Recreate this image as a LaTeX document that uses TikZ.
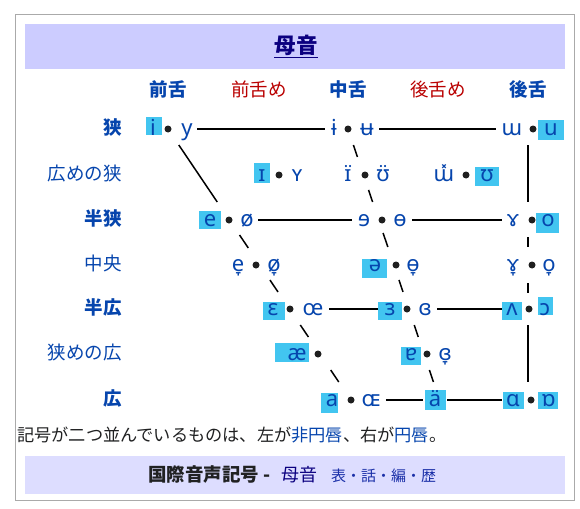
\documentclass[tikz,border=0pt]{standalone}
\usepackage{fontspec}
\setmainfont{Noto Sans CJK JP}
\newfontfamily\ipafont{Noto Sans}
\usetikzlibrary{calc}
\definecolor{lk}{HTML}{0645AD}
\definecolor{vis}{HTML}{0B0080}
\definecolor{redlink}{HTML}{BA0000}
\definecolor{hl}{RGB}{66,197,240}
\definecolor{tx}{HTML}{202122}
\definecolor{bd}{HTML}{AAAAAA}
\definecolor{bandA}{HTML}{CCCCFF}
\definecolor{bandB}{HTML}{DDDDFF}
\definecolor{navlk}{HTML}{1A2FA8}
\newcommand\setfs[1]{\fontsize{#1}{#1}\selectfont}
\begin{document}
\begin{tikzpicture}[x=1pt,y=-1pt,
  vw/.style={font=\ipafont\setfs{22}, text=lk, inner sep=0pt, anchor=base},
  dotn/.style={circle, fill=black!88, inner sep=0pt, minimum size=7pt},
  ln/.style={line width=1.5pt, black},
  hdb/.style={font=\bfseries\setfs{18.5}, text=lk, inner sep=0pt, anchor=base},
  hdr/.style={font=\setfs{18.5}, text=redlink, inner sep=0pt, anchor=base},
  rowb/.style={font=\bfseries\setfs{18.5}, text=lk, inner sep=0pt, anchor=base east},
  rown/.style={font=\setfs{18.5}, text=lk, inner sep=0pt, anchor=base east}
]
\useasboundingbox (0,0) rectangle (580,508);
\fill[white] (0,0) rectangle (580,508);
% frame and bands
\draw[bd, line width=1pt] (15.5,14.5) rectangle (574,500);
\fill[bandA] (25,24) rectangle (565,69);
\fill[bandB] (25,456) rectangle (565,494);
% title
\node[font=\bfseries\setfs{21.5}, text=vis, inner sep=0pt, anchor=base] (title) at (296,54) {母音};
\draw[vis, line width=1.2pt] ($(title.base west)+(0,3.5)$) -- ($(title.base east)+(0,3.5)$);
% column headers
\node[hdb] (h1) at (168,97) {前舌};
\node[hdr] (h2) at (259,97) {前舌め};
\node[hdb] (h3) at (348,97) {中舌};
\node[hdr] (h4) at (438,97) {後舌め};
\node[hdb] (h5) at (528,97) {後舌};
% row labels
\node[rowb] (r1) at (122,134) {狭};
\node[rown] (r2) at (122,180) {広めの狭};
\node[rowb] (r3) at (122,225) {半狭};
\node[rown] (r4) at (122,270) {中央};
\node[rowb] (r5) at (122,314) {半広};
\node[rown] (r6) at (122,359) {狭めの広};
\node[rowb] (r7) at (122,405) {広};
% highlight boxes
\fill[hl] (146,117) rectangle (162,135);
\fill[hl] (538,120) rectangle (564,140);
\fill[hl] (254,163) rectangle (270,183);
\fill[hl] (475,167) rectangle (499,186);
\fill[hl] (199,211) rectangle (221,229);
\fill[hl] (536,213) rectangle (559,233);
\fill[hl] (362,259) rectangle (387,278);
\fill[hl] (263,302) rectangle (285,320);
\fill[hl] (378,302) rectangle (402,320);
\fill[hl] (502,302) rectangle (522,320);
\fill[hl] (538,297) rectangle (553,315);
\fill[hl] (275,343) rectangle (309,362);
\fill[hl] (401,347) rectangle (421,365);
\fill[hl] (321,393) rectangle (338,413);
\fill[hl] (425,390) rectangle (446,410);
\fill[hl] (503,392) rectangle (524,409);
\fill[hl] (538,392) rectangle (558,409);
% line coordinates
\coordinate (f1) at (168,129);
\coordinate (f2) at (229.4,220);
\coordinate (f3) at (259.8,265);
\coordinate (f4) at (289.5,309);
\coordinate (f5) at (319.9,354);
\coordinate (f6) at (350.9,400);
\coordinate (c1) at (348,129);
\coordinate (c2) at (363.5,175);
\coordinate (c3) at (378.7,220);
\coordinate (c4) at (393.9,265);
\coordinate (c5) at (408.8,309);
\coordinate (c6) at (424,354);
\coordinate (c7) at (439.5,400);
\coordinate (b1) at (528,129);
\coordinate (b2) at (528,220);
\coordinate (b3) at (528,265);
\coordinate (b4) at (528,309);
\coordinate (b5) at (528,400);
\coordinate (q1) at (533,129);
\coordinate (q2) at (532,220);
\coordinate (q4) at (529,309);
\coordinate (q5) at (531,400);
% horizontal lines
\draw[ln, shorten <=29pt, shorten >=23pt] (f1) -- (c1);
\draw[ln, shorten <=31pt, shorten >=37pt] (c1) -- (q1);
\draw[ln, shorten <=28.6pt, shorten >=26.7pt] (f2) -- (c3);
\draw[ln, shorten <=33.3pt, shorten >=30pt] (c3) -- (q2);
\draw[ln, shorten <=39.5pt, shorten >=30.8pt] (f4) -- (c5);
\draw[ln, shorten <=28.2pt, shorten >=27pt] (c5) -- (q4);
\draw[ln, shorten <=35pt, shorten >=16.5pt] (f6) -- (c7);
\draw[ln, shorten <=7.5pt, shorten >=29pt] (c7) -- (q5);
% front line
\draw[ln, shorten <=19.3pt, shorten >=21.7pt] (f1) -- (f2);
\draw[ln, shorten <=18.1pt, shorten >=20.5pt] (f2) -- (f3);
\draw[ln, shorten <=18.1pt, shorten >=20.5pt] (f3) -- (f4);
\draw[ln, shorten <=19.3pt, shorten >=20.5pt] (f4) -- (f5);
\draw[ln, shorten <=19.3pt, shorten >=21.7pt] (f5) -- (f6);
% central line
\draw[ln, shorten <=16.9pt, shorten >=19pt] (c1) -- (c2);
\draw[ln, shorten <=15.8pt, shorten >=19pt] (c2) -- (c3);
\draw[ln, shorten <=13.7pt, shorten >=19pt] (c3) -- (c4);
\draw[ln, shorten <=15.8pt, shorten >=18pt] (c4) -- (c5);
\draw[ln, shorten <=16.9pt, shorten >=18pt] (c5) -- (c6);
\draw[ln, shorten <=16.9pt, shorten >=19pt] (c6) -- (c7);
% back line
\draw[ln, shorten <=16pt, shorten >=18pt] (b1) -- (b2);
\draw[ln, shorten <=17pt, shorten >=18pt] (b2) -- (b3);
\draw[ln, shorten <=18pt, shorten >=16pt] (b3) -- (b4);
\draw[ln, shorten <=16pt, shorten >=18pt] (b4) -- (b5);
% dots
\node[dotn] (diy) at (168,129) {};
\node[dotn] (dbi) at (348,129) {};
\node[dotn] (dmu) at (533,129) {};
\node[dotn] (dsi) at (279,175) {};
\node[dotn] (dci) at (365,175) {};
\node[dotn] (dxm) at (466,175) {};
\node[dotn] (de) at (229,220) {};
\node[dotn] (dre) at (382,220) {};
\node[dotn] (dga) at (532,220) {};
\node[dotn] (dle) at (256,265) {};
\node[dotn] (dsc) at (396,265) {};
\node[dotn] (dlga) at (532,265) {};
\node[dotn] (deps) at (290,309) {};
\node[dotn] (drep) at (407,309) {};
\node[dotn] (dwv) at (529,309) {};
\node[dotn] (dae) at (318,354) {};
\node[dotn] (dtu) at (427,354) {};
\node[dotn] (da) at (351,400) {};
\node[dotn] (dsa) at (531,400) {};
% vowels
\node[vw] (vi) at (153,135.5) {i};
\node[vw] (vy) at (187,135.5) {y};
\node[vw] (vbi) at (334,135.5) {ɨ};
\node[vw] (vbu) at (367,135.5) {ʉ};
\node[vw] (vmu) at (512,135.5) {ɯ};
\node[vw] (vu) at (551,135.5) {u};
\node[vw] (vsi) at (262,181.5) {ɪ};
\node[vw] (vsy) at (297,181.5) {ʏ};
\node[vw] (vci) at (348,181.5) {ɪ^^^^0308};
\node[vw] (vcu) at (383,181.5) {ʊ^^^^0308};
\node[vw] (vxm) at (444,181.5) {ɯ^^^^033d};
\node[vw] (vsu) at (487,181.5) {ʊ};
\node[vw] (ve) at (210,226.5) {e};
\node[vw] (voe) at (247,226.5) {ø};
\node[vw] (vre) at (364,226.5) {ɘ};
\node[vw] (vbo) at (400,226.5) {ɵ};
\node[vw] (vga) at (513,226.5) {ɤ};
\node[vw] (vo) at (548,226.5) {o};
\node[vw] (vle) at (238,271.5) {e^^^^031e};
\node[vw] (vloe) at (274,271.5) {ø^^^^031e};
\node[vw] (vsc) at (375,271.5) {ə};
\node[vw] (vlbo) at (413,271.5) {ɵ^^^^031e};
\node[vw] (vlga) at (513,271.5) {ɤ^^^^031e};
\node[vw] (vlo) at (549,271.5) {o^^^^031e};
\node[vw] (veps) at (273,315.5) {ɛ};
\node[vw] (voel) at (313,315.5) {œ};
\node[vw] (vrep) at (390,315.5) {ɜ};
\node[vw] (vcrep) at (425,315.5) {ɞ};
\node[vw] (vwv) at (512,315.5) {ʌ};
\node[vw] (voo) at (545,315.5) {ɔ};
\node[vw] (vae) at (297,360.5) {æ};
\node[vw] (vtu) at (411,360.5) {ɐ};
\node[vw] (vlcr) at (445,360.5) {ɞ^^^^031e};
\node[vw] (va) at (332,406.5) {a};
\node[vw] (voa) at (371,406.5) {ɶ};
\node[vw] (vca) at (435,406.5) {ä};
\node[vw] (vsa) at (513,406.5) {ɑ};
\node[vw] (vto) at (549,406.5) {ɒ};
% note
\node[font=\setfs{17.2}, text=tx, inner sep=0pt, anchor=base west] (note) at (17,441.5)
  {記号が二つ並んでいるものは、左が\textcolor{lk}{非円唇}、右が\textcolor{lk}{円唇}。};
% footer
\node[font=\bfseries\setfs{18.5}, text=tx, inner sep=0pt, anchor=base west] (ft1) at (148,481) {国際音声記号 -};
\node[font=\setfs{18}, text=vis, inner sep=0pt, anchor=base west] (ft2) at (281,481) {母音};
\node[font=\setfs{15}, text=navlk, inner sep=0pt, anchor=base west] (ft3) at (331,481) {表・話・編・歴};
\end{tikzpicture}
\end{document}
